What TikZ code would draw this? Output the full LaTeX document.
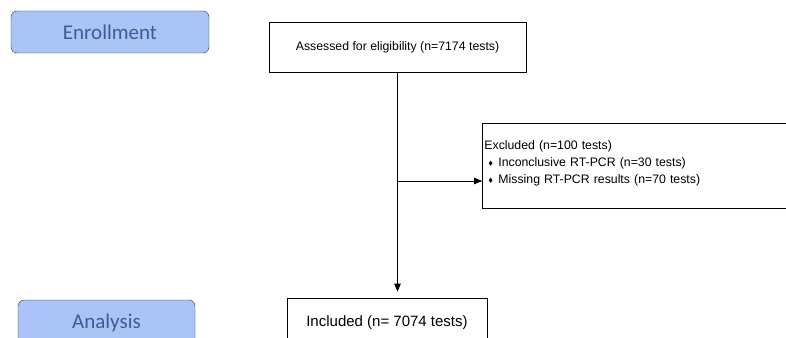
\documentclass[tikz,border=0pt]{standalone}
\usepackage{amssymb}
\usepackage{fontspec}
\setmainfont{Liberation Sans}
\newfontfamily\phasefont{Carlito}
\usepackage{tikz}
\usetikzlibrary{arrows, positioning}
\definecolor{phasefill}{RGB}{169,196,245}
\definecolor{phasetext}{RGB}{61,90,153}
\tikzset{
		phase/.style={draw=black!80, fill=phasefill, rounded corners=6pt, minimum width=198pt,
			minimum height=42pt, inner sep=0pt, font=\phasefont\fontsize{21}{21}\selectfont, text=phasetext},
		flowbox/.style={draw, thick, inner sep=0pt, font=\fontsize{12.3}{17}\selectfont}
	}
\newcommand{\dbul}{\makebox[10pt][l]{\raisebox{1pt}{$\scriptscriptstyle\blacklozenge$}}}

\begin{document}
\begin{tikzpicture}[x=1pt, y=-1pt, >=triangle 45]
		\useasboundingbox (0,0) rectangle (786,337);
		\clip (0,0) rectangle (786,337);

		\node[phase]                                                  (enroll)   at (110,32)    {Enrollment};
		\node[phase, minimum width=177pt, minimum height=60pt]        (analysis) at (106.5,330) {};
		\node[phasetext, font=\phasefont\fontsize{21}{21}\selectfont] at (analysis.center |- 0,323) {Analysis};

		\node[flowbox, minimum width=257pt, minimum height=50pt]      (assess)   at (397.5,47)  {Assessed for eligibility (n=7174 tests)};
		\node[flowbox, minimum width=200pt, minimum height=50pt,
			font=\fontsize{15}{17}\selectfont]                         (incl)     at (387,323)   {Included (n= 7074 tests)};
		\node[flowbox, anchor=north west, minimum width=330pt, minimum height=85pt,
			align=left, text width=326pt, inner xsep=2pt]              (excl)     at (482,123)
			{Excluded (n=100 tests)\\ \hspace*{4pt}\dbul Inconclusive RT-PCR (n=30 tests)\\
			 \hspace*{4pt}\dbul Missing RT-PCR results (n=70 tests)\\[-9pt] \mbox{}};

		\coordinate (split) at (assess.south |- 0,181);

		\draw[->, thick, shorten >=6pt] (assess.south) -- (assess.south |- incl.north);
		\draw[->, thick] (split) -- (split -| excl.west);

	\end{tikzpicture}
\end{document}
